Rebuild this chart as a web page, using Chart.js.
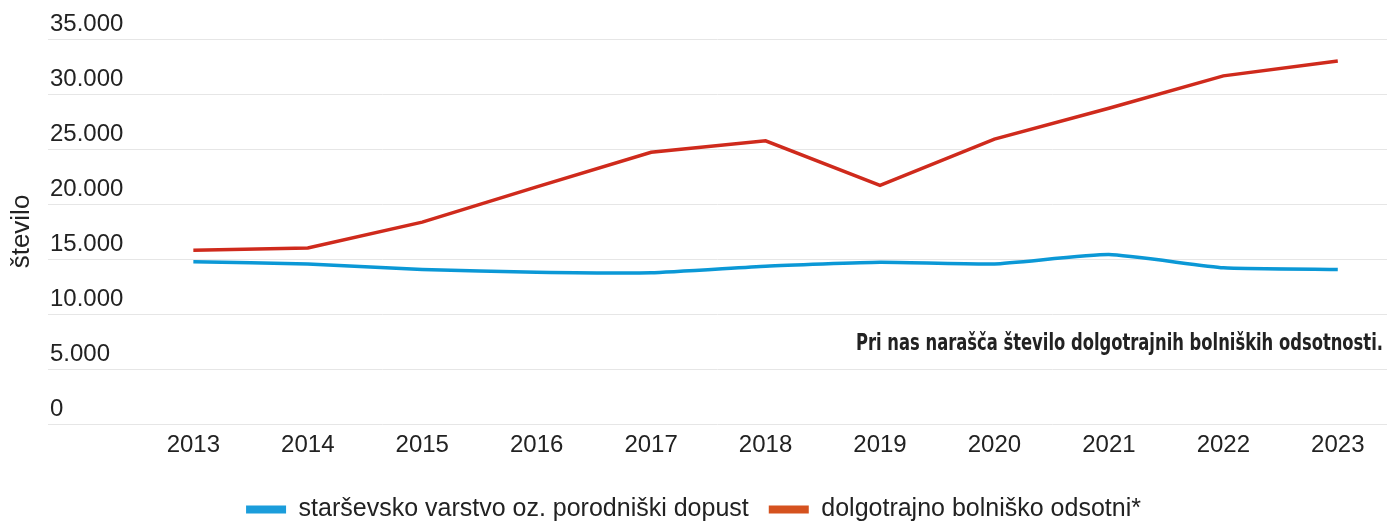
<!DOCTYPE html>
<html lang="sl">
<head>
<meta charset="utf-8">
<title>Število odsotnosti</title>
<script src="https://cdn.jsdelivr.net/npm/chart.js@4"></script>
<style>
  html, body { margin: 0; padding: 0; background: #fff; }
  #wrap { width: 1387px; height: 525px; position: relative; }
</style>
</head>
<body>
<div id="wrap"><canvas id="chart"></canvas></div>
<script>
// podatki, odčitani s slike
const leta = [2013, 2014, 2015, 2016, 2017, 2018, 2019, 2020, 2021, 2022, 2023];
const starsevsko = [14750, 14550, 14050, 13800, 13750, 14350, 14700, 14550, 15400, 14200, 14050];
const bolniske = [15800, 16000, 18350, 21550, 24700, 25750, 21700, 25900, 28700, 31650, 33000];
const yOznake = [0, 5000, 10000, 15000, 20000, 25000, 30000, 35000];
const imeStarsevsko = "starševsko varstvo oz. porodniški dopust";
const imeBolniske = "dolgotrajno bolniško odsotni*";
const naslovY = "število";
const opomba = "Pri nas narašča število dolgotrajnih bolniških odsotnosti.";

const barveCrt = ["#0b98d6", "#cf2a1c"];
const barveLegende = ["#1b9ddb", "#d5521f"];
const pisava = "'Liberation Sans', Arial, sans-serif";

// 35000 -> "35.000"
function tisocice(v) {
  return String(v).replace(/\B(?=(\d{3})+(?!\d))/g, ".");
}

/**
 * Opomba v desnem delu grafa
 */
const opombaPlugin = {
  id: "opomba",
  afterDraw(chart) {
    const { ctx, chartArea } = chart;
    ctx.save();
    ctx.font = "bold 23px 'DejaVu Sans Condensed', 'DejaVu Sans', sans-serif";
    ctx.fillStyle = "#222";
    ctx.textBaseline = "middle";
    ctx.textAlign = "right";
    const sirina = ctx.measureText(opomba).width;
    const cilj = 527;
    ctx.translate(chartArea.right - 4, 344);
    ctx.scale(cilj / sirina, 1);
    ctx.fillText(opomba, 0, 0);
    ctx.restore();
  }
};

function narisiGraf() {
  const ctx = document.getElementById("chart").getContext("2d");
  new Chart(ctx, {
    type: "line",
    data: {
      datasets: [
        {
          label: imeStarsevsko,
          data: leta.map((l, i) => ({ x: l, y: starsevsko[i] })),
          borderColor: barveCrt[0],
          backgroundColor: barveCrt[0],
          borderWidth: 3.5,
          pointRadius: 0,
          tension: 0.15,
        },
        {
          label: imeBolniske,
          data: leta.map((l, i) => ({ x: l, y: bolniske[i] })),
          borderColor: barveCrt[1],
          backgroundColor: barveCrt[1],
          borderWidth: 3.5,
          pointRadius: 0,
          tension: 0,
        },
      ],
    },
    options: {
      responsive: true,
      maintainAspectRatio: false,
      animation: false,
      layout: { padding: { top: 39, right: 0, bottom: 0, left: 0 } },
      scales: {
        x: {
          type: "linear",
          min: 2011.73,
          max: 2023.43,
          afterBuildTicks: (s) => { s.ticks = leta.map((v) => ({ value: v })); },
          afterFit: (s) => { s.height = 53; },
          grid: { display: false, drawTicks: false },
          border: { display: false },
          ticks: {
            padding: 7,
            color: "#222",
            font: { family: pisava, size: 24 },
            callback: (v) => String(v),
            maxRotation: 0,
          },
        },
        y: {
          min: 0,
          max: 35000,
          afterBuildTicks: (s) => { s.ticks = yOznake.map((v) => ({ value: v })); },
          afterFit: (s) => { s.width = 48; },
          grid: { color: "#e6e6e6", lineWidth: 1, drawTicks: false },
          border: { display: false },
          ticks: {
            mirror: true,
            padding: 2,
            labelOffset: -15,
            color: "#222",
            font: { family: pisava, size: 24 },
            callback: (v) => tisocice(v),
          },
          title: {
            display: true,
            text: naslovY,
            color: "#222",
            font: { family: pisava, size: 26 },
            padding: { top: 6, bottom: 0 },
          },
        },
      },
      plugins: {
        legend: {
          position: "bottom",
          maxHeight: 48,
          labels: {
            boxWidth: 40,
            boxHeight: 8,
            padding: 20,
            color: "#222",
            font: { family: pisava, size: 25 },
            generateLabels: (chart) => chart.data.datasets.map((ds, i) => ({
              text: ds.label,
              fillStyle: barveLegende[i],
              strokeStyle: barveLegende[i],
              lineWidth: 0,
              hidden: false,
              datasetIndex: i,
              fontColor: "#222",
            })),
          },
        },
        tooltip: { enabled: false },
      },
    },
    plugins: [opombaPlugin],
  });
}

window.onload = () => {
  narisiGraf();
};
</script>
</body>
</html>
